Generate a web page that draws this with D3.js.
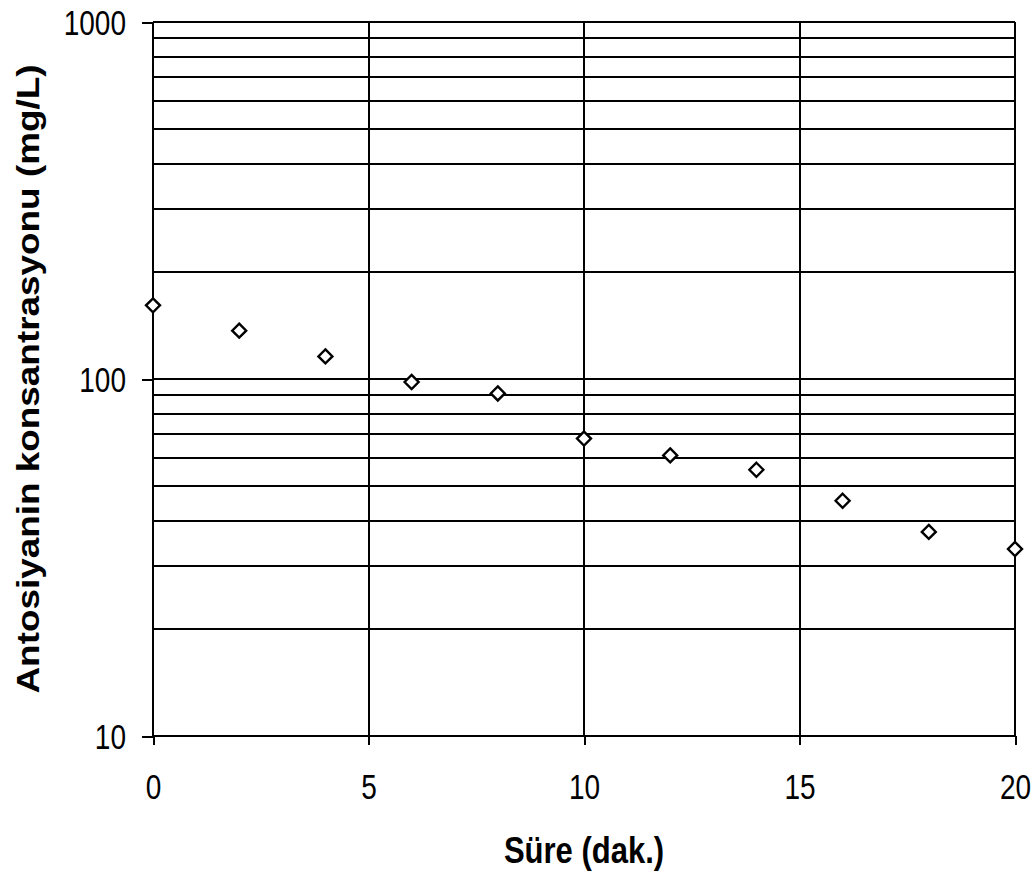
<!DOCTYPE html>
<html>
<head>
<meta charset="utf-8">
<script src="https://cdn.jsdelivr.net/npm/d3@7"></script>
<style>
  html, body { margin: 0; padding: 0; background: #fff; }
  svg { display: block; }
  .lbl { font-family: "Liberation Sans", Arial, sans-serif; }
  line, .domain { shape-rendering: crispEdges; }
</style>
</head>
<body>
<svg id="chart" width="1035" height="876"></svg>
<script>
// ---- data ----
const times = [0, 2, 4, 6, 8, 10, 12, 14, 16, 18, 20];
const concentrations = [160.8, 136.6, 115.7, 98.1, 91.1, 68.1, 61.1, 55.7, 45.6, 37.3, 33.4];
const xTickValues = [0, 5, 10, 15, 20];
const yTickValues = [10, 100, 1000];
const yGridValues = [20, 30, 40, 50, 60, 70, 80, 90, 100, 200, 300, 400, 500, 600, 700, 800, 900, 1000];
const xTitle = "Süre (dak.)";
const yTitle = "Antosiyanin konsantrasyonu (mg/L)";

// ---- layout ----
const mLeft = 153, mRight = 1015, mTop = 22, mBottom = 736;
const tickStretch = 1.25, titleStretch = 1.19;
const svg = d3.select("#chart");
svg.append("rect").attr("width", 1035).attr("height", 876).attr("fill", "#fff");

const x = d3.scaleLinear().domain([0, 20]).range([mLeft, mRight]);
const y = d3.scaleLog().domain([10, 1000]).range([mBottom, mTop]);

// horizontal grid lines
svg.append("g").selectAll("line").data(yGridValues).join("line")
  .attr("x1", mLeft).attr("x2", mRight)
  .attr("y1", d => y(d)).attr("y2", d => y(d))
  .attr("stroke", "#000").attr("stroke-width", 2);

// vertical grid lines
svg.append("g").selectAll("line").data(xTickValues.filter(d => d > 0)).join("line")
  .attr("x1", d => x(d)).attr("x2", d => x(d))
  .attr("y1", mTop).attr("y2", mBottom)
  .attr("stroke", "#000").attr("stroke-width", 2);

// y axis
const yAxis = d3.axisLeft(y).tickValues(yTickValues).tickFormat(d3.format("d")).tickSize(11);
const gy = svg.append("g").attr("transform", `translate(${mLeft},0)`).call(yAxis);
gy.select(".domain").attr("stroke", "#000").attr("stroke-width", 2).attr("d", `M0,${mTop}V${mBottom}`);
gy.selectAll(".tick line").attr("stroke", "#000").attr("stroke-width", 2);
gy.selectAll(".tick text").attr("class", "lbl").attr("font-size", 28).attr("fill", "#000")
  .attr("x", 0).attr("y", 0).attr("dy", "0.36em")
  .attr("transform", `translate(-27,0) scale(1,${tickStretch})`);

// x axis
const xAxis = d3.axisBottom(x).tickValues(xTickValues).tickFormat(d3.format("d")).tickSize(9);
const gx = svg.append("g").attr("transform", `translate(0,${mBottom})`).call(xAxis);
gx.select(".domain").attr("stroke", "#000").attr("stroke-width", 2).attr("d", `M${mLeft},0H${mRight}`);
gx.selectAll(".tick line").attr("stroke", "#000").attr("stroke-width", 2);
gx.selectAll(".tick text").attr("class", "lbl").attr("font-size", 28).attr("fill", "#000")
  .attr("y", 0).attr("dy", 0)
  .attr("transform", `translate(0,63) scale(1,${tickStretch})`);

// axis titles
svg.append("text").attr("class", "lbl")
  .attr("transform", `translate(${(mLeft + mRight) / 2},863) scale(1,${titleStretch})`)
  .attr("text-anchor", "middle").attr("font-weight", "bold").attr("font-size", 31)
  .attr("fill", "#000").text(xTitle);

svg.append("text").attr("class", "lbl")
  .attr("transform", `translate(39,379) scale(1,${titleStretch}) rotate(-90)`)
  .attr("text-anchor", "middle").attr("font-weight", "bold").attr("font-size", 31)
  .attr("fill", "#000").text(yTitle);

// data points (diamonds)
const diamond = d3.symbol().type(d3.symbolDiamond2).size(125);
svg.append("g").selectAll("path").data(times.map((t, i) => [t, concentrations[i]])).join("path")
  .attr("transform", d => `translate(${x(d[0])},${y(d[1])})`)
  .attr("d", diamond)
  .attr("fill", "#fff").attr("stroke", "#000").attr("stroke-width", 2.4);
</script>
</body>
</html>
